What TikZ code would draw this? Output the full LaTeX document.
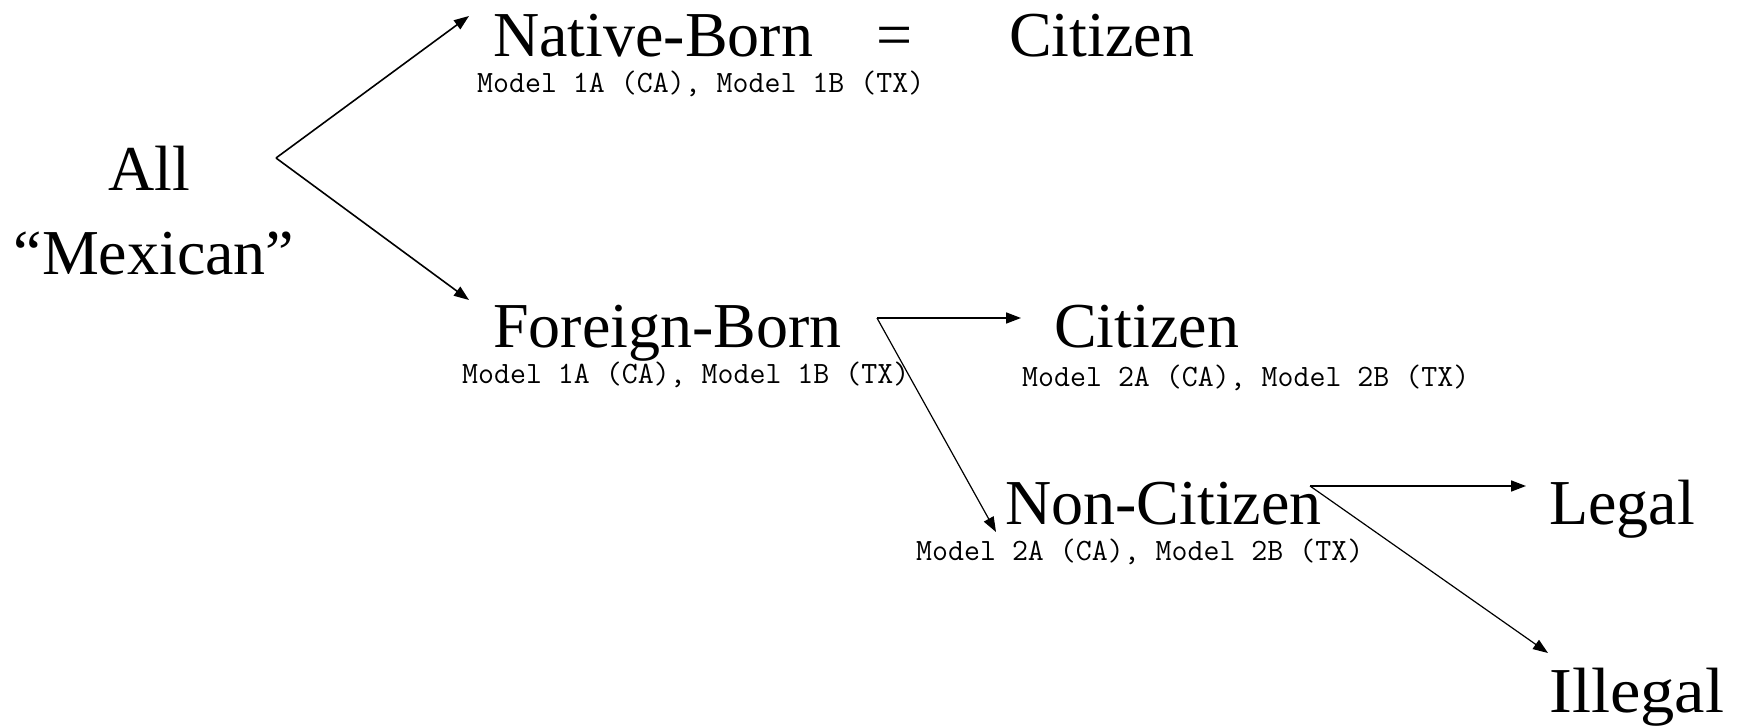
\documentclass[tikz,border=0pt]{standalone}
\usepackage{fontspec}
\setmainfont{Liberation Serif}
\usetikzlibrary{arrows.meta}
\begin{document}
\begin{tikzpicture}[x=1pt,y=-1pt,
  big/.style={inner sep=0pt, font=\fontsize{64}{70}\selectfont, anchor=base west},
  small/.style={inner sep=0pt, font=\ttfamily\fontsize{31}{33}\selectfont, anchor=base west},
  arr/.style={-{Triangle[length=15pt,width=11pt]}, line width=1.6pt},
  thinarr/.style={-{Triangle[length=15pt,width=11pt]}, line width=1.2pt}]
\useasboundingbox (0,0) rectangle (1745,727);
% main nodes
\node[big, anchor=base] (all) at (149,191) {All};
\node[big, anchor=base] (mex) at (154,275) {“Mexican”};
\node[big] (nb) at (493,57) {Native-Born};
\node[big, anchor=base] (eq) at (895,57) {=};
\node[big] (cit1) at (1009,57) {Citizen};
\node[small] (m1) at (477,93) {Model 1A (CA), Model 1B (TX)};
\node[big] (fb) at (493,347) {Foreign-Born};
\node[small] (m2) at (462,383) {Model 1A (CA), Model 1B (TX)};
\node[big] (cit2) at (1054,347) {Citizen};
\node[small] (m3) at (1022,386) {Model 2A (CA), Model 2B (TX)};
\node[big] (nc) at (1005,524) {Non-Citizen};
\node[small] (m4) at (916,560) {Model 2A (CA), Model 2B (TX)};
\node[big] (legal) at (1549,524) {Legal};
\node[big] (illegal) at (1549,712) {\scalebox{1.07}[1]{Illegal}};
% junctions and arrow ends
\coordinate (j1) at (276,158);
\coordinate (t1) at (469,16);
\coordinate (t2) at (469,300);
\coordinate (j2) at (877,318);
\coordinate (t3) at (1021,318);
\coordinate (t4) at (996,532);
\coordinate (j3) at (1310,486);
\coordinate (t5) at (1526,486);
\coordinate (t6) at (1548,653);
% connectors
\draw[arr] (j1) -- (t1);
\draw[arr] (j1) -- (t2);
\draw[arr] (j2) -- (t3);
\draw[thinarr] (j2) -- (t4);
\draw[arr] (j3) -- (t5);
\draw[thinarr] (j3) -- (t6);
\end{tikzpicture}
\end{document}
